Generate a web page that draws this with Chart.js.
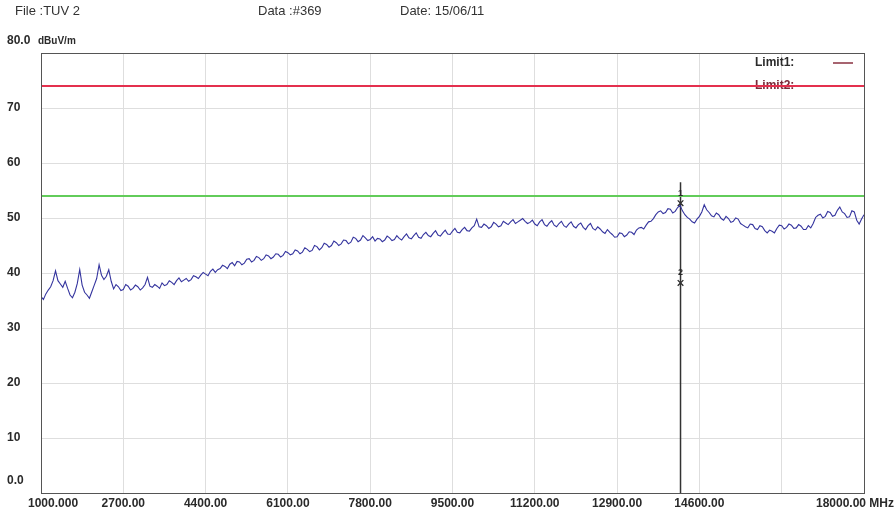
<!DOCTYPE html>
<html>
<head>
<meta charset="utf-8">
<script src="https://cdn.jsdelivr.net/npm/chart.js@4.4.1/dist/chart.umd.min.js"></script>
<style>
  html, body { margin: 0; padding: 0; background: #fff; }
  canvas { display: block; }
</style>
</head>
<body>
<canvas id="scan" width="896" height="512"></canvas>
<script>
// sweep: 1000 - 18000 MHz in 50 MHz steps
const startFreq = 1000;
const stepFreq = 50;

// dBuV/m (10 values = 500 MHz per line)
const levels = [
  35.7, 35.2, 36.2, 36.9, 37.5, 38.6, 40.4, 38.6, 38.0, 37.4,
  38.5, 37.2, 36.0, 35.5, 36.5, 38.1, 40.6, 37.8, 36.5, 36.0,
  35.4, 36.6, 37.8, 39.0, 41.5, 39.6, 38.8, 39.4, 40.6, 38.5,
  37.1, 37.9, 37.5, 36.8, 37.0, 37.9, 37.6, 36.9, 37.2, 37.8,
  37.5, 36.9, 37.3, 37.9, 39.2, 37.6, 37.4, 37.9, 37.6, 37.2,
  38.2, 37.7, 37.9, 38.6, 38.3, 37.9, 38.6, 39.1, 38.4, 38.7,
  39.0, 38.5, 38.8, 39.5, 39.3, 39.0, 39.6, 40.1, 39.8, 39.5,
  40.3, 40.7, 40.1, 40.6, 40.8, 41.4, 41.2, 40.8, 41.6, 41.9,
  41.3, 42.1, 42.0, 41.5, 41.8, 42.5, 42.6, 42.0, 42.3, 43.0,
  42.8, 42.3, 42.6, 43.3, 43.1, 42.6, 42.9, 43.5, 43.4, 42.9,
  43.2, 43.9, 43.7, 43.3, 43.5, 44.2, 44.0, 43.5, 43.8, 44.6,
  44.3, 43.9, 44.1, 45.0, 44.8, 44.2, 44.6, 45.4, 45.2, 44.7,
  45.0, 45.8, 45.5, 45.0, 45.3, 46.0, 45.9, 45.3, 45.6, 46.5,
  46.3, 45.7, 46.0, 46.8, 46.4, 45.9, 46.1, 46.6, 45.8, 46.3,
  46.2, 45.7, 46.0, 46.7, 46.4, 45.9, 46.1, 46.8, 46.3, 46.0,
  46.6, 47.1, 46.4, 46.2, 46.8, 47.3, 46.5, 46.3, 47.0, 47.4,
  46.8, 46.6, 47.2, 47.7, 46.9, 46.7, 47.3, 47.8, 47.1, 47.0,
  47.6, 48.1, 47.4, 47.3, 47.9, 48.3, 47.7, 47.6, 48.2, 48.6,
  49.8, 48.4, 48.3, 48.9, 48.6, 48.1, 48.4, 49.2, 48.9, 48.4,
  48.6, 49.4, 49.1, 48.8, 49.3, 49.7, 49.0, 49.3, 49.6, 49.9,
  49.4, 49.0, 49.2, 49.6, 48.9, 48.6, 49.3, 49.7, 48.8, 48.5,
  49.1, 49.5, 48.7, 48.4, 49.0, 49.4, 48.6, 48.3, 48.9, 49.3,
  48.5, 48.2, 48.8, 49.1, 48.3, 47.9, 48.6, 49.0, 48.1, 47.8,
  48.4, 48.0, 47.5, 47.2, 47.9, 47.4, 47.0, 46.5, 46.6, 47.3,
  47.2, 46.6, 46.9, 47.5, 47.4, 47.0, 47.8, 48.2, 48.3, 48.0,
  48.7, 49.3, 49.4, 49.9, 50.6, 51.1, 51.3, 50.8, 51.0, 51.7,
  51.6, 50.9, 51.2, 51.9, 52.3, 51.3, 50.6, 50.1, 49.8, 49.3,
  49.1, 49.8, 50.3, 51.1, 52.4, 51.5, 51.0, 50.4, 50.2, 50.9,
  50.6, 49.9, 49.6, 50.3, 49.9, 49.2, 49.4, 50.0, 49.8, 49.0,
  48.7, 48.4, 48.2, 48.9, 48.8, 48.1, 47.9, 48.6, 48.4, 47.7,
  47.3, 47.8, 47.6, 47.3, 48.1, 48.7, 48.6, 48.0, 48.3, 48.9,
  48.7, 48.1, 48.2, 48.8, 48.5, 47.9, 47.9, 48.6, 48.2, 49.0,
  50.1, 50.5, 50.7, 50.0, 50.3, 51.2, 51.0, 50.3, 50.5, 51.4,
  52.0, 51.1, 50.8, 50.1, 50.2, 51.3, 51.1, 49.6, 48.9, 49.8,
  50.6
];

const limit1 = 74;
const limit2 = 54;

const markerFreq = 14210;
const markerLevels = [52.7, 38.2];
const markerNames = ['1', '2'];

const xTicks = [1000, 2700, 4400, 6100, 7800, 9500, 11200, 12900, 14600, 16300, 18000];
const xTickLabels = ['1000.000', '2700.00', '4400.00', '6100.00', '7800.00', '9500.00',
  '11200.00', '12900.00', '14600.00', '', '18000.00 MHz'];
const yTicks = [0, 10, 20, 30, 40, 50, 60, 70, 80];
const yTickLabels = ['0.0', '10', '20', '30', '40', '50', '60', '70', '80.0'];

const header = [
  { text: 'File :TUV 2', x: 15 },
  { text: 'Data :#369', x: 258 },
  { text: 'Date: 15/06/11', x: 400 }
];

const trace = levels.map((v, i) => ({ x: startFreq + i * stepFreq, y: v }));
const flat = level => [{ x: startFreq, y: level }, { x: 18000, y: level }];

const labelFont = 'bold 12px "Liberation Sans", Arial, sans-serif';

const scanText = {
  id: 'scanText',
  beforeDatasetsDraw(chart) {
    const { ctx } = chart;
    ctx.save();
    // legend (limit line is drawn over it)
    ctx.font = labelFont;
    ctx.textBaseline = 'middle';
    ctx.textAlign = 'left';
    ctx.fillStyle = '#2a2a2a';
    ctx.fillText('Limit1:', 755, 63);
    ctx.fillStyle = '#7a2a3a';
    ctx.fillText('Limit2:', 755, 86);
    ctx.strokeStyle = '#8a3040';
    ctx.lineWidth = 1.5;
    ctx.beginPath();
    ctx.moveTo(833, 63); ctx.lineTo(853, 63);
    ctx.stroke();
    ctx.restore();
  },
  afterDraw(chart) {
    const { ctx, chartArea: a, scales: { x, y } } = chart;
    ctx.save();
    // frame
    ctx.strokeStyle = '#555';
    ctx.lineWidth = 1;
    ctx.strokeRect(a.left + 0.5, a.top + 0.5, a.right - a.left, a.bottom - a.top);

    ctx.fillStyle = '#333';
    ctx.textBaseline = 'middle';
    ctx.textAlign = 'left';
    ctx.font = '13px "Liberation Sans", Arial, sans-serif';
    header.forEach(h => ctx.fillText(h.text, h.x, 11));

    ctx.font = labelFont;
    ctx.fillStyle = '#2a2a2a';
    yTicks.forEach((v, i) => {
      let py = y.getPixelForValue(v);
      if (v === 0 || v === 80) py -= 12;
      ctx.fillText(yTickLabels[i], 7, py);
    });
    ctx.font = 'bold 10px "Liberation Sans", Arial, sans-serif';
    ctx.fillText('dBuV/m', 38, 41);

    ctx.font = labelFont;
    xTicks.forEach((v, i) => {
      const px = x.getPixelForValue(v);
      if (i === 0) { ctx.textAlign = 'left'; ctx.fillText(xTickLabels[i], 28, 504); }
      else if (i === xTicks.length - 1) { ctx.textAlign = 'right'; ctx.fillText(xTickLabels[i], 894, 504); }
      else { ctx.textAlign = 'center'; ctx.fillText(xTickLabels[i], px, 504); }
    });

    // marker numbers
    ctx.font = 'bold 9px "Liberation Sans", Arial, sans-serif';
    ctx.textAlign = 'center';
    markerLevels.forEach((v, i) => {
      ctx.fillText(markerNames[i], x.getPixelForValue(markerFreq), y.getPixelForValue(v) - 10);
    });
    ctx.restore();
  }
};

new Chart(document.getElementById('scan'), {
  type: 'line',
  data: {
    datasets: [
      { label: 'Limit1', data: flat(limit1), borderColor: '#e4304e', borderWidth: 2, pointRadius: 0 },
      { label: 'Limit2', data: flat(limit2), borderColor: '#62cc5a', borderWidth: 2, pointRadius: 0 },
      { label: 'Scan', data: trace, borderColor: '#34349e', borderWidth: 1.1, pointRadius: 0, tension: 0 },
      { label: 'Marker line', data: [{ x: markerFreq, y: 0 }, { x: markerFreq, y: 56.5 }],
        borderColor: '#333', borderWidth: 1.5, pointRadius: 0 },
      { label: 'Markers', data: markerLevels.map(v => ({ x: markerFreq, y: v })), showLine: false,
        pointStyle: 'crossRot', pointRadius: 4, borderColor: '#222', borderWidth: 1.2 }
    ]
  },
  options: {
    responsive: false,
    animation: false,
    devicePixelRatio: 1,
    layout: { padding: { left: 41, right: 32, top: 53, bottom: 19 } },
    plugins: { legend: { display: false }, tooltip: { enabled: false } },
    scales: {
      x: {
        type: 'linear', min: 1000, max: 18000,
        afterBuildTicks: s => { s.ticks = xTicks.map(v => ({ value: v })); },
        afterFit: s => { s.height = 0; },
        ticks: { display: false },
        grid: { color: '#dedede', drawTicks: false },
        border: { display: false }
      },
      y: {
        min: 0, max: 80,
        afterBuildTicks: s => { s.ticks = yTicks.map(v => ({ value: v })); },
        afterFit: s => { s.width = 0; },
        ticks: { display: false },
        grid: { color: '#dedede', drawTicks: false },
        border: { display: false }
      }
    }
  },
  plugins: [scanText]
});
</script>
</body>
</html>
